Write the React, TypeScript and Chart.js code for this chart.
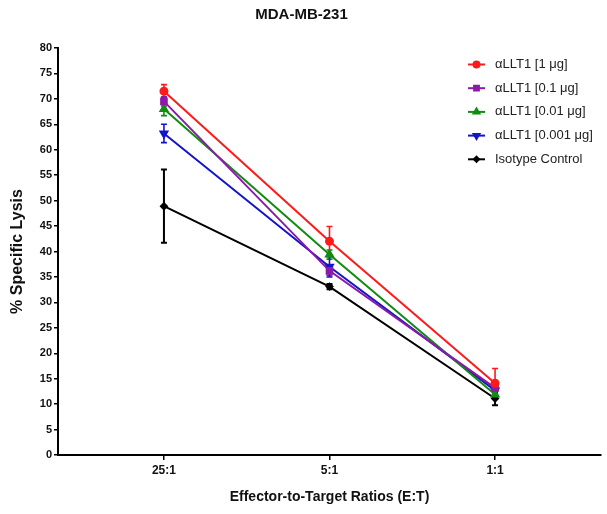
import React, { useEffect, useRef } from "react";
import { Chart, registerables } from "chart.js";
import { drawPoint } from "chart.js/helpers";

Chart.register(...registerables);

const categories = ["25:1", "5:1", "1:1"];
const xPositions = [1, 2, 3];

const seriesNames = [
  "αLLT1 [1 μg]",
  "αLLT1 [0.1 μg]",
  "αLLT1 [0.01 μg]",
  "αLLT1 [0.001 μg]",
  "Isotype Control",
];

const lysis1 = [71.5, 42.0, 14.1];
const lysis01 = [69.5, 36.2, 13.2];
const lysis001 = [68.0, 39.4, 11.9];
const lysis0001 = [63.2, 37.0, 12.7];
const lysisIso = [48.9, 33.1, 11.1];

const err1 = [1.3, 2.9, 2.9];
const err01 = [0.9, 0.9, 0.6];
const err001 = [1.3, 0.9, 0.9];
const err0001 = [1.8, 2.0, 0.7];
const errIso = [7.2, 0.5, 1.3];

const yTicks = [0, 5, 10, 15, 20, 25, 30, 35, 40, 45, 50, 55, 60, 65, 70, 75, 80];

const colors = ["#ff1a1a", "#8a1aa8", "#138a13", "#1414c8", "#000000"];
const pointStyles = ["circle", "rect", "triangle", "triangle", "rectRot"];
const rotations = [0, 0, 0, 180, 0];
const radii = [3.5, 4, 4, 4, 3];

const allValues = [lysis1, lysis01, lysis001, lysis0001, lysisIso];
const allErrors = [err1, err01, err001, err0001, errIso];

const FONT = "'Liberation Sans', Arial, Helvetica, sans-serif";

const errorBarPlugin = {
  id: "errorBars",
  beforeDatasetsDraw(chart: any) {
    const ctx = chart.ctx;
    const xs = chart.scales.x;
    const ys = chart.scales.y;
    chart.data.datasets.forEach((ds: any, i: number) => {
      const errs = allErrors[i];
      ctx.save();
      ctx.strokeStyle = colors[i];
      ctx.lineWidth = i === 4 ? 2 : 1.6;
      ds.data.forEach((pt: any, j: number) => {
        const x = xs.getPixelForValue(pt.x);
        const yTop = ys.getPixelForValue(pt.y + errs[j]);
        const yBot = ys.getPixelForValue(pt.y - errs[j]);
        const cap = 3;
        ctx.beginPath();
        ctx.moveTo(x, yTop);
        ctx.lineTo(x, yBot);
        ctx.moveTo(x - cap, yTop);
        ctx.lineTo(x + cap, yTop);
        ctx.moveTo(x - cap, yBot);
        ctx.lineTo(x + cap, yBot);
        ctx.stroke();
      });
      ctx.restore();
    });
  },
};

const legendPlugin = {
  id: "customLegend",
  afterDraw(chart: any) {
    const ctx = chart.ctx;
    const area = chart.chartArea;
    const lineX0 = area.right - 133;
    const lineX1 = area.right - 116;
    const textX = area.right - 106;
    const y0 = area.top + 16.5;
    const step = 23.7;
    ctx.save();
    seriesNames.forEach((name, i) => {
      const y = y0 + i * step;
      ctx.strokeStyle = colors[i];
      ctx.lineWidth = 2;
      ctx.beginPath();
      ctx.moveTo(lineX0, y);
      ctx.lineTo(lineX1, y);
      ctx.stroke();
      ctx.fillStyle = colors[i];
      drawPoint(
        ctx,
        {
          pointStyle: pointStyles[i],
          rotation: rotations[i],
          radius: radii[i] * 0.85,
          borderWidth: 1,
        } as any,
        (lineX0 + lineX1) / 2,
        y
      );
      ctx.fillStyle = "#222222";
      ctx.font = `13px ${FONT}`;
      ctx.textBaseline = "middle";
      ctx.textAlign = "left";
      ctx.fillText(name, textX, y);
    });
    ctx.restore();
  },
};

export default function App() {
  const canvasRef = useRef<HTMLCanvasElement | null>(null);

  useEffect(() => {
    if (!canvasRef.current) return;
    const datasets = allValues.map((vals, i) => ({
      label: seriesNames[i],
      data: vals.map((v, j) => ({ x: xPositions[j], y: v })),
      borderColor: colors[i],
      backgroundColor: colors[i],
      pointBackgroundColor: colors[i],
      pointBorderColor: colors[i],
      pointStyle: pointStyles[i],
      rotation: rotations[i],
      pointRadius: radii[i],
      borderWidth: 2,
      showLine: true,
      tension: 0,
    }));

    const chart = new Chart(canvasRef.current, {
      type: "scatter",
      data: { datasets },
      plugins: [errorBarPlugin, legendPlugin],
      options: {
        animation: false,
        responsive: true,
        maintainAspectRatio: false,
        layout: { padding: { left: 0, right: 4, top: 0, bottom: 0 } },
        plugins: {
          legend: { display: false },
          tooltip: { enabled: false },
          title: {
            display: true,
            text: "MDA-MB-231",
            color: "#111",
            font: { family: FONT, size: 15, weight: "bold" },
            padding: { top: 6, bottom: 24 },
          },
        },
        scales: {
          x: {
            type: "linear",
            min: 0.36,
            max: 3.64,
            afterBuildTicks: (scale: any) => {
              scale.ticks = xPositions.map((v) => ({ value: v }));
            },
            afterFit: (scale: any) => {
              scale.height = 59;
            },
            ticks: {
              color: "#111",
              font: { family: FONT, size: 12, weight: "bold" },
              padding: 3,
              callback: (v: any) => categories[xPositions.indexOf(v)] ?? "",
              maxRotation: 0,
            },
            grid: {
              display: true,
              drawOnChartArea: false,
              drawTicks: true,
              tickLength: 5,
              color: "#000",
              lineWidth: 1.5,
            },
            border: { display: true, color: "#000", width: 2 },
            title: {
              display: true,
              text: "Effector-to-Target Ratios (E:T)",
              color: "#111",
              font: { family: FONT, size: 14, weight: "bold" },
              padding: { top: 4, bottom: 8 },
            },
          },
          y: {
            type: "linear",
            min: 0,
            max: 80,
            afterBuildTicks: (scale: any) => {
              scale.ticks = yTicks.map((v) => ({ value: v }));
            },
            afterFit: (scale: any) => {
              scale.width = 58;
            },
            ticks: {
              color: "#111",
              font: { family: FONT, size: 11, weight: "bold" },
              padding: 2,
            },
            grid: {
              display: true,
              drawOnChartArea: false,
              drawTicks: true,
              tickLength: 4,
              color: "#000",
              lineWidth: 1.5,
            },
            border: { display: true, color: "#000", width: 2 },
            title: {
              display: true,
              text: "% Specific Lysis",
              color: "#111",
              font: { family: FONT, size: 16, weight: "bold" },
              padding: { top: 8, bottom: 4 },
            },
          },
        },
      } as any,
    });
    return () => chart.destroy();
  }, []);

  return (
    <div
      style={{
        position: "absolute",
        left: 0,
        top: 0,
        width: 607,
        height: 514,
        background: "#fff",
      }}
    >
      <canvas ref={canvasRef} />
    </div>
  );
}
